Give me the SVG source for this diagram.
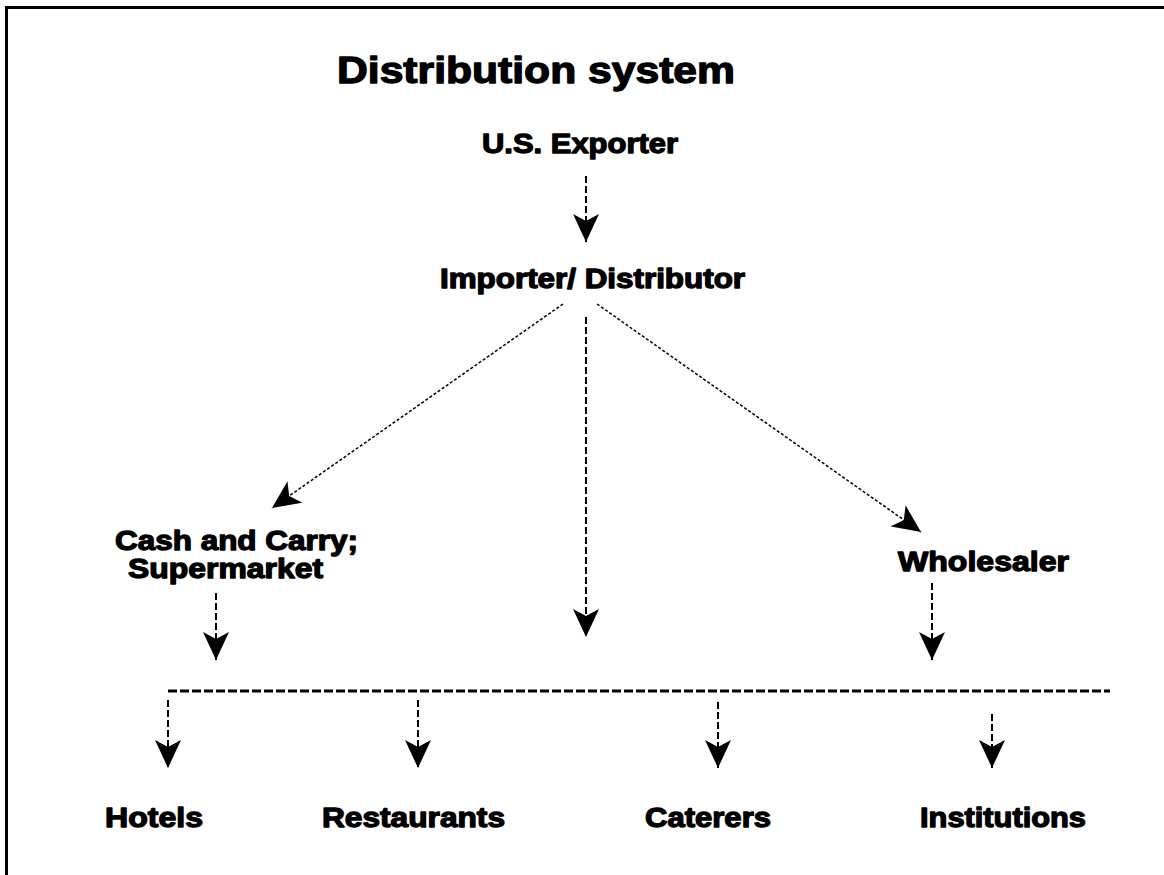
<svg xmlns="http://www.w3.org/2000/svg" width="1164" height="875" viewBox="0 0 1164 875">
<style>
.lbl{font-family:"Liberation Sans",Arial,sans-serif;font-weight:bold;fill:#000;stroke:#000;stroke-width:1.3;stroke-linejoin:round}
.v{fill:none;stroke:#000;stroke-width:2;stroke-dasharray:7 3}
.d{fill:none;stroke:#000;stroke-width:1.5;stroke-dasharray:3 2}
.h{fill:none;stroke:#000;stroke-width:3;stroke-dasharray:9 3}
</style>
<defs>
<marker id="ah" markerUnits="userSpaceOnUse" viewBox="0 0 28 26" markerWidth="28" markerHeight="26" refX="28" refY="13" orient="auto">
<path d="M0,0 L28,13 L0,26 L7,13 Z" fill="#000"/>
</marker>
</defs>
<rect width="1164" height="875" fill="#fff"/>
<path d="M6.5,875 V7.5 H1164" fill="none" stroke="#000" stroke-width="3"/>
<g id="title"><text class="lbl" x="337" y="83" font-size="37" textLength="398" lengthAdjust="spacingAndGlyphs">Distribution system</text></g>
<g id="exporter"><text class="lbl" x="482" y="153" font-size="28" textLength="196" lengthAdjust="spacingAndGlyphs">U.S. Exporter</text></g>
<g id="importer"><text class="lbl" x="440" y="288" font-size="27" textLength="305" lengthAdjust="spacingAndGlyphs">Importer/ Distributor</text></g>
<g id="cashcarry"><text class="lbl" x="115" y="550" font-size="28" textLength="243" lengthAdjust="spacingAndGlyphs">Cash and Carry;</text><text class="lbl" x="128" y="578" font-size="28" textLength="195" lengthAdjust="spacingAndGlyphs">Supermarket</text></g>
<g id="wholesaler"><text class="lbl" x="898" y="571" font-size="28" textLength="171" lengthAdjust="spacingAndGlyphs">Wholesaler</text></g>
<g id="hotels"><text class="lbl" x="105" y="827" font-size="28" textLength="98" lengthAdjust="spacingAndGlyphs">Hotels</text></g>
<g id="restaurants"><text class="lbl" x="322" y="827" font-size="28" textLength="183" lengthAdjust="spacingAndGlyphs">Restaurants</text></g>
<g id="caterers"><text class="lbl" x="645" y="827" font-size="28" textLength="126" lengthAdjust="spacingAndGlyphs">Caterers</text></g>
<g id="institutions"><text class="lbl" x="920" y="827" font-size="28" textLength="166" lengthAdjust="spacingAndGlyphs">Institutions</text></g>
<g id="connectors">
<line class="v" x1="586" y1="176" x2="586" y2="242" marker-end="url(#ah)"/>
<line class="d" x1="563" y1="304" x2="272" y2="508" marker-end="url(#ah)"/>
<line class="v" x1="586" y1="317" x2="586" y2="637" marker-end="url(#ah)"/>
<line class="d" x1="597" y1="304" x2="921" y2="532" marker-end="url(#ah)"/>
<line class="v" x1="216" y1="593" x2="216" y2="660" marker-end="url(#ah)"/>
<line class="v" x1="932" y1="583" x2="932" y2="660" marker-end="url(#ah)"/>
<line class="h" x1="168" y1="691" x2="1110" y2="691"/>
<line class="v" x1="168" y1="700" x2="168" y2="768" marker-end="url(#ah)"/>
<line class="v" x1="418" y1="700" x2="418" y2="768" marker-end="url(#ah)"/>
<line class="v" x1="718" y1="702" x2="718" y2="768" marker-end="url(#ah)"/>
<line class="v" x1="992" y1="714" x2="992" y2="768" marker-end="url(#ah)"/>
</g>
</svg>
